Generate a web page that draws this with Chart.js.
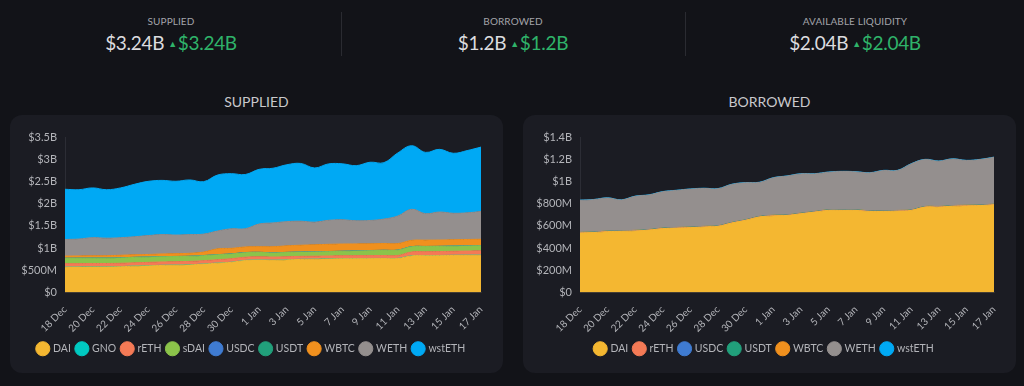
<!DOCTYPE html>
<html>
<head>
<meta charset="utf-8">
<script src="https://cdn.jsdelivr.net/npm/chart.js@4"></script>
<style>
  html, body { margin: 0; padding: 0; }
  body {
    width: 1024px; height: 386px; overflow: hidden;
    background: #121318; font-family: Lato, sans-serif; color: #d8d8da;
    position: relative;
  }
  .stat { position: absolute; top: 0; width: 342px; text-align: center; }
  .stat .label { margin-top: 15px; font-size: 10px; color: #a3a4aa; letter-spacing: 0.1px; }
  .stat .value { margin-top: 4px; font-size: 19px; color: #dcdcdf; letter-spacing: -0.3px; }
  .stat .value .up { color: #2fb36a; }
  .stat .value .tri { font-size: 9px; color: #2fb36a; vertical-align: 3px; margin: 0 1px 0 4px; }
  .divider { position: absolute; top: 12px; width: 1px; height: 44px; background: #2a2b31; }
  .title { position: absolute; top: 93px; width: 493px; text-align: center; font-size: 14px; color: #c9c9cc; }
  .panel { position: absolute; top: 115px; width: 493px; height: 258px; background: #1b1c23; border-radius: 12px; }
  .panel canvas { position: absolute; left: 0; top: 0; }
</style>
</head>
<body>

<div class="stat" style="left:0">
  <div class="label">SUPPLIED</div>
  <div class="value">$3.24B<span class="tri">&#9650;</span><span class="up">$3.24B</span></div>
</div>
<div class="divider" style="left:341px"></div>
<div class="stat" style="left:342px">
  <div class="label">BORROWED</div>
  <div class="value">$1.2B<span class="tri">&#9650;</span><span class="up">$1.2B</span></div>
</div>
<div class="divider" style="left:685px"></div>
<div class="stat" style="left:684px">
  <div class="label">AVAILABLE LIQUIDITY</div>
  <div class="value">$2.04B<span class="tri">&#9650;</span><span class="up">$2.04B</span></div>
</div>

<div class="title" style="left:10px">SUPPLIED</div>
<div class="title" style="left:523px">BORROWED</div>

<div class="panel" style="left:10px"><canvas id="suppliedChart" width="493" height="258"></canvas></div>
<div class="panel" style="left:523px"><canvas id="borrowedChart" width="493" height="258"></canvas></div>

<script>
// Dates, 18 Dec -> 17 Jan
const days = [
  '18 Dec', '19 Dec', '20 Dec', '21 Dec', '22 Dec', '23 Dec', '24 Dec', '25 Dec',
  '26 Dec', '27 Dec', '28 Dec', '29 Dec', '30 Dec', '31 Dec', '1 Jan', '2 Jan',
  '3 Jan', '4 Jan', '5 Jan', '6 Jan', '7 Jan', '8 Jan', '9 Jan', '10 Jan',
  '11 Jan', '12 Jan', '13 Jan', '14 Jan', '15 Jan', '16 Jan', '17 Jan',
];

// Supplied per asset, $M
const supDAI = [572, 573, 575, 576, 580, 594, 600, 610, 615, 620, 640, 660, 680, 720, 730, 725, 735, 745, 750, 755, 760, 762, 763, 764, 765, 825, 828, 830, 835, 838, 840];
const supGNO = [4, 4, 4, 4, 4, 4, 4, 4, 4, 4, 4, 4, 4, 4, 4, 4, 4, 4, 4, 4, 4, 4, 4, 4, 4, 4, 4, 4, 4, 4, 4];
const supRETH = [74, 74, 74, 74, 75, 72, 75, 75, 75, 78, 74, 75, 78, 72, 70, 70, 67, 66, 65, 65, 65, 65, 65, 65, 65, 85, 87, 88, 90, 92, 95];
const supSDAI = [119, 120, 120, 120, 120, 120, 118, 115, 115, 112, 112, 110, 105, 100, 98, 92, 95, 95, 95, 96, 98, 104, 110, 115, 118, 115, 115, 115, 115, 115, 114];
const supUSDC = [2, 2, 2, 2, 2, 2, 2, 2, 2, 2, 2, 2, 2, 2, 2, 2, 2, 2, 2, 2, 2, 2, 2, 2, 2, 2, 2, 2, 2, 2, 2];
const supUSDT = [2, 2, 2, 2, 2, 2, 2, 2, 2, 2, 2, 2, 2, 2, 2, 2, 2, 2, 2, 2, 2, 2, 2, 2, 2, 2, 2, 2, 2, 2, 2];
const supWBTC = [48, 49, 50, 51, 56, 56, 56, 61, 61, 66, 77, 131, 124, 126, 126, 137, 146, 151, 156, 161, 161, 156, 151, 151, 146, 141, 141, 141, 141, 141, 142];
const supWETH = [373, 380, 408, 395, 395, 405, 425, 435, 420, 420, 404, 400, 440, 410, 510, 535, 545, 540, 510, 540, 545, 520, 525, 550, 620, 700, 595, 630, 595, 600, 624];
const supWSTETH = [1130, 1110, 1120, 1090, 1120, 1180, 1220, 1220, 1210, 1230, 1180, 1260, 1240, 1220, 1230, 1230, 1280, 1300, 1220, 1270, 1260, 1240, 1310, 1270, 1420, 1430, 1380, 1410, 1350, 1400, 1450];

// Borrowed per asset, $M
const borDAI = [536, 540, 548, 551, 554, 562, 575, 580, 584, 590, 596, 626, 650, 680, 690, 694, 709, 724, 739, 739, 739, 730, 730, 733, 739, 769, 769, 777, 780, 783, 790];
const borRETH = [1, 1, 1, 1, 1, 1, 1, 1, 1, 1, 1, 1, 1, 1, 1, 1, 1, 1, 1, 1, 1, 1, 1, 1, 1, 1, 1, 1, 1, 1, 1];
const borUSDC = [2, 2, 2, 2, 2, 2, 2, 2, 2, 2, 2, 2, 2, 2, 2, 2, 2, 2, 2, 2, 2, 2, 2, 2, 2, 2, 2, 2, 2, 2, 2];
const borUSDT = [2, 2, 2, 2, 2, 2, 2, 2, 2, 2, 2, 2, 2, 2, 2, 2, 2, 2, 2, 2, 2, 2, 2, 2, 2, 2, 2, 2, 2, 2, 2];
const borWBTC = [1, 1, 1, 1, 1, 1, 1, 1, 1, 1, 1, 1, 1, 1, 1, 1, 1, 1, 1, 1, 1, 1, 1, 1, 1, 1, 1, 1, 1, 1, 1];
const borWETH = [288, 290, 297, 276, 306, 310, 326, 333, 341, 341, 332, 341, 332, 305, 336, 348, 353, 338, 338, 344, 341, 341, 362, 359, 413, 422, 407, 419, 402, 408, 421];
const borWSTETH = [2, 2, 2, 2, 2, 2, 2, 2, 2, 2, 2, 2, 2, 2, 2, 2, 2, 2, 2, 2, 2, 2, 2, 2, 2, 2, 2, 2, 2, 2, 2];

const colors = {
  DAI: '#f4b731',
  GNO: '#00c9c1',
  rETH: '#f47a56',
  sDAI: '#8bc34a',
  USDC: '#3f7bd1',
  USDT: '#21a07b',
  WBTC: '#f0901e',
  WETH: '#948f8e',
  wstETH: '#00a9f4',
};

Chart.defaults.font.family = 'Lato, sans-serif';
Chart.defaults.color = '#b3b4b9';

function money(v) {
  if (v === 0) return '$0';
  if (v >= 1000) return '$' + (v / 1000) + 'B';
  return '$' + v + 'M';
}

function makeDatasets(series) {
  return series.map(([name, data], i) => ({
    label: name,
    data: data,
    backgroundColor: colors[name],
    borderColor: colors[name],
    borderWidth: 1,
    pointRadius: 0,
    tension: 0.4,
    fill: i === 0 ? 'origin' : '-1',
  }));
}

function makeChart(id, series, max, step, axisWidth) {
  const ctx = document.getElementById(id).getContext('2d');
  return new Chart(ctx, {
    type: 'line',
    data: { labels: days, datasets: makeDatasets(series) },
    options: {
      responsive: false,
      animation: false,
      layout: { padding: { left: 12, right: 22, top: 22, bottom: 9 } },
      plugins: {
        tooltip: { enabled: false },
        legend: {
          position: 'bottom',
          labels: {
            usePointStyle: true,
            pointStyle: 'circle',
            boxWidth: 10,
            boxHeight: 10,
            padding: 6,
            font: { size: 10.5 },
            color: '#b3b4b9',
          },
        },
      },
      scales: {
        x: {
          grid: { display: false },
          border: { display: true, color: '#2c2d35' },
          ticks: {
            autoSkip: false,
            minRotation: 45,
            maxRotation: 45,
            font: { size: 10 },
            callback: (v, i) => (i % 2 === 0 ? days[i] : null),
          },
        },
        y: {
          stacked: true,
          min: 0,
          max: max,
          grid: { display: false },
          border: { display: true, color: '#2c2d35' },
          ticks: { stepSize: step, padding: 0, font: { size: 11 }, callback: money },
          afterFit: (scale) => { scale.width = axisWidth; },
        },
      },
    },
  });
}

makeChart('suppliedChart', [
  ['DAI', supDAI], ['GNO', supGNO], ['rETH', supRETH], ['sDAI', supSDAI], ['USDC', supUSDC],
  ['USDT', supUSDT], ['WBTC', supWBTC], ['WETH', supWETH], ['wstETH', supWSTETH],
], 3500, 500, 43);

makeChart('borrowedChart', [
  ['DAI', borDAI], ['rETH', borRETH], ['USDC', borUSDC], ['USDT', borUSDT],
  ['WBTC', borWBTC], ['WETH', borWETH], ['wstETH', borWSTETH],
], 1400, 200, 45);
</script>
</body>
</html>
